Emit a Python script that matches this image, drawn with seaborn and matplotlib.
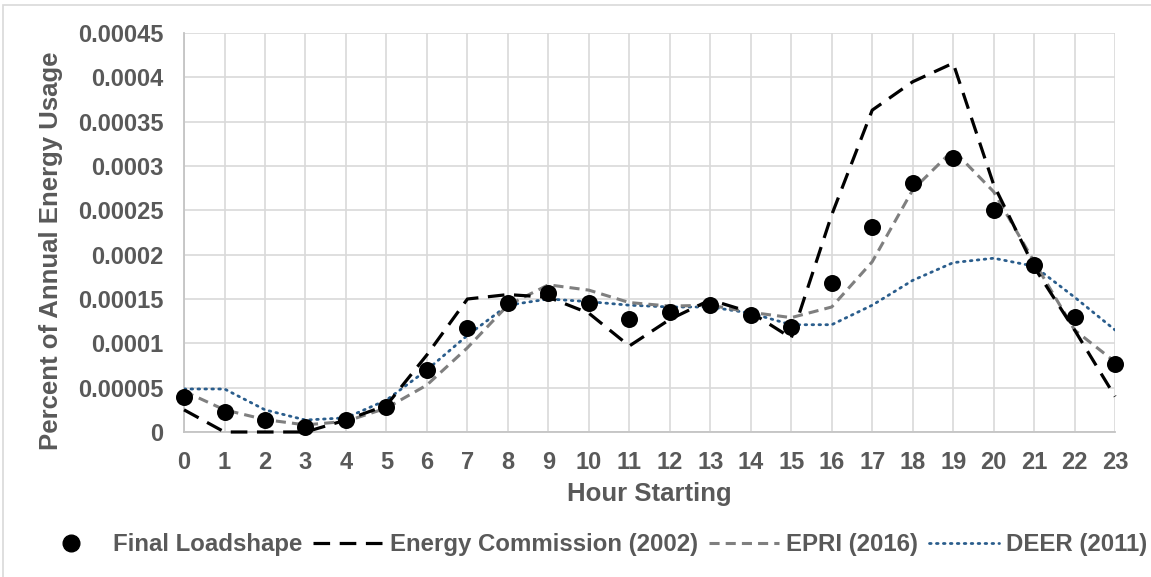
"""Hourly loadshape comparison chart: share of annual energy use by hour."""

import matplotlib.pyplot as plt
import pandas as pd
import seaborn as sns
from matplotlib.lines import Line2D
from matplotlib.patches import Rectangle
from matplotlib.ticker import FuncFormatter, MultipleLocator


# Data.
hours = list(range(24))
final_loadshape = [
    0.000040, 0.0000225, 0.0000135, 0.0000058, 0.0000135, 0.000028,
    0.000070, 0.000117, 0.000146, 0.000157, 0.000146, 0.000127,
    0.000135, 0.000143, 0.000132, 0.000118, 0.000168, 0.000231,
    0.000281, 0.000309, 0.000250, 0.000188, 0.000130, 0.000077,
]
energy_commission_2002 = [
    0.000025, 0.0, 0.0, 0.0, 0.0000135, 0.000030,
    0.000087, 0.000150, 0.000155, 0.000152, 0.000134, 0.000097,
    0.000127, 0.000149, 0.000135, 0.000106, 0.000245, 0.000363,
    0.000395, 0.000416, 0.000279, 0.000186, 0.000115, 0.000040,
]
epri_2016 = [
    0.000046, 0.000025, 0.000014, 0.000008, 0.000012, 0.000027,
    0.000053, 0.000095, 0.000143, 0.000166, 0.000160, 0.000146,
    0.000142, 0.000143, 0.000135, 0.000129, 0.000141, 0.000192,
    0.000273, 0.000318, 0.000271, 0.000192, 0.000115, 0.000079,
]
deer_2011 = [
    0.0000485, 0.0000485, 0.000025, 0.0000135, 0.000016, 0.000036,
    0.000070, 0.000109, 0.000143, 0.000150, 0.000147, 0.000143,
    0.000141, 0.000141, 0.000134, 0.000121, 0.000121, 0.000143,
    0.000171, 0.000191, 0.000196, 0.000187, 0.000152, 0.000115,
]

series_labels = [
    "Final Loadshape",
    "Energy Commission (2002)",
    "EPRI (2016)",
    "DEER (2011)",
]

df = pd.DataFrame({
    "hour": hours,
    "final": final_loadshape,
    "cec": energy_commission_2002,
    "epri": epri_2016,
    "deer": deer_2011,
})

# Styling.
text_grey = "#595959"
grid_grey = "#d9d9d9"
deer_blue = "#2a5d8c"

sns.set_theme(style="white")
plt.rcParams["font.family"] = ["Liberation Sans", "DejaVu Sans"]
plt.rcParams["font.weight"] = "bold"

fig = plt.figure(figsize=(11.51, 5.77), dpi=100)
ax = fig.add_axes([0.1599, 0.2513, 0.8089, 0.6915])

# Chart-area border (Excel style), running off the right and bottom edges.
fig_top = 1 - 5 / 577
fig.patches.append(Rectangle(
    (3 / 1151, -0.05), 1.2, fig_top + 0.05,
    transform=fig.transFigure, fill=False, edgecolor=grid_grey, linewidth=1.2,
))

# Lines.
cec_style = dict(color="black", linewidth=2.3, linestyle=(0, (5.2, 3.0)))
epri_style = dict(color="#7f7f7f", linewidth=2.2, linestyle=(0, (3.3, 2.0)))
deer_style = dict(color=deer_blue, linewidth=2.0, linestyle=(0, (0.6, 1.9)),
                  dash_capstyle="round")

sns.lineplot(data=df, x="hour", y="deer", ax=ax, zorder=3, **deer_style)
sns.lineplot(data=df, x="hour", y="epri", ax=ax, zorder=4, **epri_style)
sns.lineplot(data=df, x="hour", y="cec", ax=ax, zorder=5, clip_on=False, **cec_style)
sns.scatterplot(data=df, x="hour", y="final", ax=ax, color="black", s=150,
                edgecolor="black", linewidth=0, zorder=6, clip_on=False)

# Axes.
ax.set_xlim(0, 23)
ax.set_ylim(0, 0.00045)
ax.xaxis.set_major_locator(MultipleLocator(1))
ax.yaxis.set_major_locator(MultipleLocator(0.00005))


def fmt_y(v, _pos):
    if abs(v) < 1e-12:
        return "0"
    return f"{v:.5f}".rstrip("0").rstrip(".")


ax.yaxis.set_major_formatter(FuncFormatter(fmt_y))
ax.grid(True, color=grid_grey, linewidth=1.2, zorder=0)
ax.set_axisbelow(True)

for side in ["top", "right"]:
    ax.spines[side].set_visible(False)
for side in ["left", "bottom"]:
    ax.spines[side].set_color("#c4c4c4")
    ax.spines[side].set_linewidth(1.3)

ax.tick_params(axis="both", length=0, labelsize=17, labelcolor=text_grey)
ax.tick_params(axis="x", pad=14)
ax.tick_params(axis="y", pad=15)
for lbl in ax.get_xticklabels() + ax.get_yticklabels():
    lbl.set_fontweight("bold")

ax.set_xlabel("Hour Starting", fontsize=18.5, fontweight="bold", color=text_grey)
ax.set_ylabel("Percent of Annual Energy Usage", fontsize=18.5, fontweight="bold",
              color=text_grey)
ax.xaxis.set_label_coords(0.5, -0.125)
ax.xaxis.label.set_verticalalignment("top")
ax.yaxis.set_label_coords(-0.130, 0.455)

# Legend along the bottom.
handles = [
    Line2D([], [], marker="o", color="black", linestyle="none", markersize=12),
    Line2D([], [], **cec_style),
    Line2D([], [], **epri_style),
    Line2D([], [], **deer_style),
]
fig.legend(
    handles, series_labels,
    loc="center", bbox_to_anchor=(0.514, 0.0555), ncol=4, frameon=False,
    prop={"weight": "bold", "size": 17.3}, labelcolor=text_grey,
    handlelength=2.9, handletextpad=0.3, columnspacing=0.45,
    borderpad=0.0, borderaxespad=0.0,
)

fig.savefig("out.png", dpi=100)
